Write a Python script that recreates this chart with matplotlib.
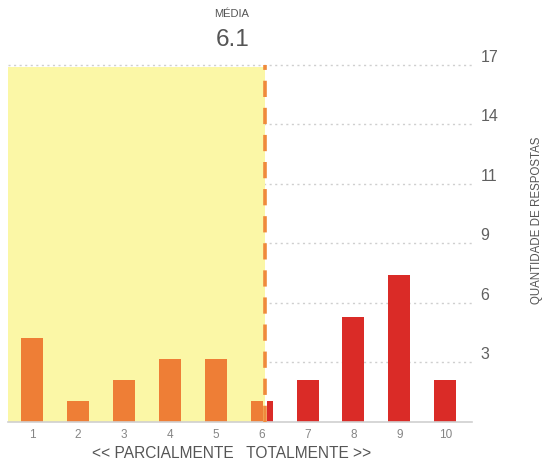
import matplotlib
matplotlib.use('Agg')
import matplotlib.pyplot as plt
import numpy as np

plt.rcParams['font.family'] = ['Liberation Sans', 'DejaVu Sans']

# notas 1..10 e quantidade de respostas
scores = [1, 2, 3, 4, 5, 6, 7, 8, 9, 10]
counts = [4, 1, 2, 3, 3, 1, 2, 5, 7, 2]
y_max = 17
n_ticks = 6
x_label = '<< PARCIALMENTE   TOTALMENTE >>'
y_label = 'QUANTIDADE DE RESPOSTAS'
mean_title = 'MÉDIA'

orange = '#EE7E36'
red = '#DA2B27'
yellow = '#FBF7A6'
grey = '#858585'

mean = np.average(scores, weights=counts)

fig = plt.figure(figsize=(5.47, 4.66), dpi=100)
ax = fig.add_axes([8 / 547, 44.3 / 466, 464 / 547, 356.7 / 466])
ax.set_xlim(0.48, 10.58)
ax.set_ylim(0, y_max)

# area amarela ate a media (cobre o grid)
ax.axvspan(ax.get_xlim()[0], mean, ymax=0.995, color=yellow, zorder=1.5, lw=0)

# grid pontilhado
yticks = [y_max * k / n_ticks for k in range(1, n_ticks + 1)]
for t in yticks:
    ax.axhline(t, color='#cfcfcf', lw=1.0, ls=(0, (1.5, 2.5)), zorder=1,
               clip_on=False)

# barras: parte esquerda da media laranja, direita vermelha
width = 0.48
gap = 0.045
for s, c in zip(scores, counts):
    left, right = s - width / 2, s + width / 2
    if left < mean:
        ax.bar(left, c, width=min(right, mean - gap) - left, align='edge',
               color=orange, zorder=2, lw=0)
    if right > mean:
        start = max(left, mean + gap)
        ax.bar(start, c, width=right - start, align='edge',
               color=red, zorder=2, lw=0)

ax.axvline(mean, color='#EF8A3C', lw=2.6, ls=(0, (4.5, 3)), zorder=3)

for side in ['top', 'right', 'left']:
    ax.spines[side].set_visible(False)
ax.spines['bottom'].set_color('#d0d0d0')
ax.spines['bottom'].set_linewidth(1.2)

ax.set_xticks(scores)
ax.set_xticklabels([str(s) for s in scores], fontsize=8.5, color=grey)
ax.tick_params(axis='x', length=0, pad=5)

ax.yaxis.tick_right()
ax.set_yticks(yticks)
ax.set_yticklabels([str(int(t + 0.5)) for t in yticks], fontsize=11.5,
                   color='#606060', va='bottom')
ax.tick_params(axis='y', length=0, pad=6)

fig.text(232 / 547, 1 - 453 / 466, x_label, ha='center', va='center',
         fontsize=11.2, color='#555555')
fig.text(537 / 547, 1 - 220 / 466, y_label, rotation=90, ha='center',
         va='center', fontsize=8.3, color='#555555')
fig.text(232 / 547, 1 - 14 / 466, mean_title, ha='center', va='center',
         fontsize=8, color='#555555')
fig.text(233 / 547, 1 - 40 / 466, f'{mean:.1f}', ha='center', va='center',
         fontsize=17.5, color='#555555')

fig.savefig('out.png', dpi=100)
